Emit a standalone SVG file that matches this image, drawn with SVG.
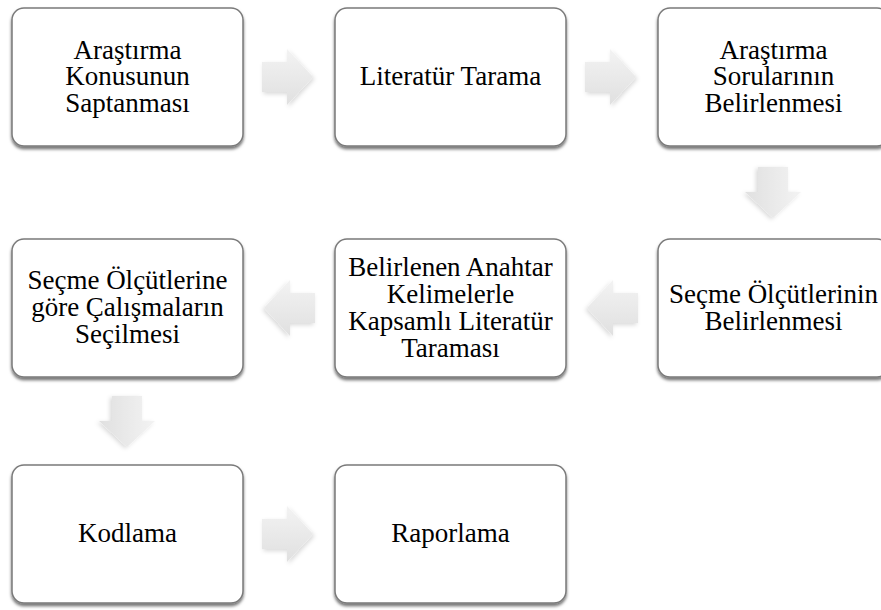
<svg xmlns="http://www.w3.org/2000/svg" width="881" height="610" viewBox="0 0 881 610">
  <defs>
    <style>
      .box { fill: #ffffff; stroke: #7a7a7a; stroke-width: 1.5; filter: url(#bshadow); }
      .t { font-size: 27px; fill: #000000; text-anchor: middle; }
      .arr { fill: url(#agrad); filter: url(#ashadow); }
    </style>
    <filter id="bshadow" x="-10%" y="-10%" width="120%" height="125%">
      <feDropShadow dx="0" dy="2.5" stdDeviation="1.6" flood-color="#000000" flood-opacity="0.55"/>
    </filter>
    <filter id="ashadow" x="-30%" y="-30%" width="160%" height="160%">
      <feDropShadow dx="1.5" dy="2" stdDeviation="2" flood-color="#000000" flood-opacity="0.15"/>
    </filter>
    <linearGradient id="agrad" x1="0" y1="0" x2="0" y2="1">
      <stop offset="0" stop-color="#f3f3f3"/>
      <stop offset="1" stop-color="#e0e0e0"/>
    </linearGradient>
    <path id="rarrow" d="M -25 -15 L 0 -15 L 0 -28 L 26 0 L 0 28 L 0 15 L -25 15 Z"/>
  </defs>

  <g id="connectors">
    <use href="#rarrow" class="arr" transform="translate(287,77)"/>
    <use href="#rarrow" class="arr" transform="translate(610,77)"/>
    <use href="#rarrow" class="arr" transform="translate(773,192) rotate(90)"/>
    <use href="#rarrow" class="arr" transform="translate(613,308) scale(-1,1)"/>
    <use href="#rarrow" class="arr" transform="translate(290,308) scale(-1,1)"/>
    <use href="#rarrow" class="arr" transform="translate(127,421) rotate(90)"/>
    <use href="#rarrow" class="arr" transform="translate(287,534)"/>
  </g>

  <g id="n1" font-family="Liberation Serif, serif">
    <rect class="box" x="12" y="8" width="231" height="138" rx="12"/>
    <text class="t" x="127.5" y="58.5">Araştırma</text>
    <text class="t" x="127.5" y="85">Konusunun</text>
    <text class="t" x="127.5" y="111.5">Saptanması</text>
  </g>
  <g id="n2" font-family="Liberation Serif, serif">
    <rect class="box" x="335" y="8" width="231" height="138" rx="12"/>
    <text class="t" x="450.5" y="85">Literatür Tarama</text>
  </g>
  <g id="n3" font-family="Liberation Serif, serif">
    <rect class="box" x="658" y="8" width="231" height="138" rx="12"/>
    <text class="t" x="773.5" y="58.5">Araştırma</text>
    <text class="t" x="773.5" y="85">Sorularının</text>
    <text class="t" x="773.5" y="111.5">Belirlenmesi</text>
  </g>
  <g id="n4" font-family="Liberation Serif, serif">
    <rect class="box" x="658" y="239" width="231" height="138" rx="12"/>
    <text class="t" x="773.5" y="302.5">Seçme Ölçütlerinin</text>
    <text class="t" x="773.5" y="329.5">Belirlenmesi</text>
  </g>
  <g id="n5" font-family="Liberation Serif, serif">
    <rect class="box" x="335" y="239" width="231" height="138" rx="12"/>
    <text class="t" x="450.5" y="275.5">Belirlenen Anahtar</text>
    <text class="t" x="450.5" y="302.5">Kelimelerle</text>
    <text class="t" x="450.5" y="329.5">Kapsamlı Literatür</text>
    <text class="t" x="450.5" y="356.5">Taraması</text>
  </g>
  <g id="n6" font-family="Liberation Serif, serif">
    <rect class="box" x="12" y="239" width="231" height="138" rx="12"/>
    <text class="t" x="127.5" y="289">Seçme Ölçütlerine</text>
    <text class="t" x="127.5" y="316">göre Çalışmaların</text>
    <text class="t" x="127.5" y="343">Seçilmesi</text>
  </g>
  <g id="n7" font-family="Liberation Serif, serif">
    <rect class="box" x="12" y="465" width="231" height="138" rx="12"/>
    <text class="t" x="127.5" y="542">Kodlama</text>
  </g>
  <g id="n8" font-family="Liberation Serif, serif">
    <rect class="box" x="335" y="465" width="231" height="138" rx="12"/>
    <text class="t" x="450.5" y="542">Raporlama</text>
  </g>
</svg>
